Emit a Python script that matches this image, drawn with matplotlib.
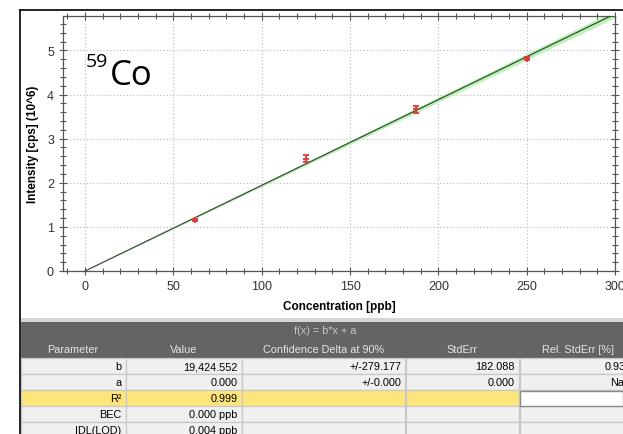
import numpy as np
import matplotlib.pyplot as plt
from matplotlib.patches import Rectangle
from matplotlib.lines import Line2D
from matplotlib.ticker import MultipleLocator

plt.rcParams['font.family'] = ['Liberation Sans', 'DejaVu Sans']

# calibration data (ppb, cps x 10^6)
conc = [62.5, 125.0, 187.5, 250.0]
intensity = [1.16, 2.54, 3.67, 4.81]
intensity_err = [0.03, 0.08, 0.08, 0.03]

slope = 19424.552       # b, cps per ppb
slope_delta = 279.177   # confidence delta at 90%
intercept = 0.0

# table contents
table_title = "f(x) = b*x + a"
col_headers = ["Parameter", "Value", "Confidence Delta at 90%", "StdErr", "Rel. StdErr [%]"]
row_params = ["b", "a", "R\u00b2", "BEC", "IDL(LOD)"]
row_values = ["19,424.552", "0.000", "0.999", "0.000 ppb", "0.004 ppb"]
row_conf = ["+/-279.177", "+/-0.000", "", "", ""]
row_stderr = ["182.088", "0.000", "", "", ""]
row_relerr = ["0.937", "NaN", "", "", ""]

W, H = 623, 435
fig = plt.figure(figsize=(W / 100, H / 100), dpi=100)


def fx(x):
    return x / W


def fy(y):
    return 1 - y / H


# chart
ax = fig.add_axes([fx(63), fy(272), fx(615) - fx(63), fy(17) - fy(272)])
xs = np.array([0.0, 300.0])
ax.fill_between(xs, (slope - slope_delta) * xs / 1e6 + intercept,
                (slope + slope_delta) * xs / 1e6 + intercept,
                color='#b0f0a8', alpha=0.85, lw=0, zorder=2)
ax.plot(xs, slope * xs / 1e6 + intercept, color='#3a4f3a', lw=0.9, zorder=3)
ax.errorbar(conc, intensity, yerr=intensity_err, fmt='+', color='#e0383a',
            ms=5, mew=1.3, elinewidth=0.8, capsize=2.5, capthick=0.8, zorder=4)

ax.set_xlim(-12.5, 300)
ax.set_ylim(0, 5.78)
ax.xaxis.set_major_locator(MultipleLocator(50))
ax.xaxis.set_minor_locator(MultipleLocator(10))
ax.yaxis.set_major_locator(MultipleLocator(1))
ax.yaxis.set_minor_locator(MultipleLocator(0.2))
ax.grid(True, which='major', linestyle=(0, (1, 2)), color='#b8b8b8', lw=0.8)
ax.tick_params(which='both', direction='inout', top=True, right=True,
               colors='#555555', labelcolor='#333333', labelsize=9, width=0.8)
ax.tick_params(which='major', length=6)
ax.tick_params(which='minor', length=4)
for s in ax.spines.values():
    s.set_color('#555555')
    s.set_linewidth(0.9)
ax.set_xlabel("Concentration [ppb]", fontsize=8.5, fontweight='bold', labelpad=6)
ax.set_ylabel("Intensity [cps] (10^6)", fontsize=8.5, fontweight='bold', labelpad=6)

fig.text(fx(86), fy(67), "59", fontsize=14, family='Open Sans', va='baseline')
fig.text(fx(110), fy(85), "Co", fontsize=25, family='Open Sans', va='baseline')

# outer frame
fig.add_artist(Line2D([fx(20), fx(W)], [fy(11), fy(11)], color='black', lw=1.2))
fig.add_artist(Line2D([fx(20), fx(20)], [fy(11), fy(H)], color='black', lw=1.2))

# table
col_edges = [20, 125.5, 241.5, 405, 519, 636]
fig.add_artist(Rectangle((fx(21), fy(323)), fx(W) - fx(21), fy(319) - fy(323),
                         color='#d6d6d6', lw=0))
fig.add_artist(Rectangle((fx(21), fy(359)), fx(W) - fx(21), fy(323) - fy(359),
                         color='#646464', lw=0))
fig.text(fx(325), fy(331), table_title, color='#c8c8c8', fontsize=7.8,
         ha='center', va='center')
for i, h in enumerate(col_headers):
    cx = (col_edges[i] + col_edges[i + 1]) / 2
    fig.text(fx(cx), fy(350.5), h, color='#e6e6e6', fontsize=7.8,
             ha='center', va='center')

row_h = 16
for r in range(len(row_params)):
    top = 359 + r * row_h
    cells = [row_params[r], row_values[r], row_conf[r], row_stderr[r], row_relerr[r]]
    for c in range(5):
        x0, x1 = col_edges[c], col_edges[c + 1]
        face = '#f0f0f0'
        if r == 2:
            face = '#fde57c' if c < 4 else 'white'
        fig.add_artist(Rectangle((fx(x0 + 0.5), fy(top + row_h)), fx(x1) - fx(x0 + 0.5),
                                 fy(top) - fy(top + row_h), facecolor=face,
                                 edgecolor='#c8c8c8', lw=0.9))
        if cells[c]:
            fig.text(fx(x1 - 4), fy(top + row_h / 2 + 0.5), cells[c], color='black',
                     fontsize=7.8, ha='right', va='center')
fig.add_artist(Rectangle((fx(519.5), fy(359 + 3 * row_h - 0.5)), fx(W) - fx(519.5),
                         fy(359 + 2 * row_h + 0.5) - fy(359 + 3 * row_h - 0.5),
                         facecolor='white', edgecolor='#8a8a8a', lw=1.0))

fig.savefig('out.png', dpi=100)
